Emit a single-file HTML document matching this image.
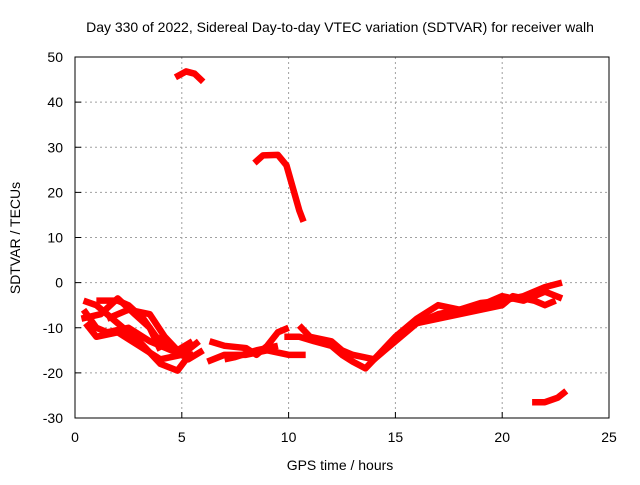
<!DOCTYPE html>
<html><head><meta charset="utf-8"><style>
body{margin:0;background:#fff;}
svg{font-family:"Liberation Sans",sans-serif;}
</style></head><body>
<svg id="chart" width="640" height="480" viewBox="0 0 640 480" xmlns="http://www.w3.org/2000/svg">
<text x="340" y="32" font-size="14" text-anchor="middle">Day 330 of 2022, Sidereal Day-to-day VTEC variation (SDTVAR) for receiver walh</text>
<text x="340" y="470" font-size="14" text-anchor="middle">GPS time / hours</text>
<text x="0" y="0" font-size="14" text-anchor="middle" transform="translate(20,238) rotate(-90)">SDTVAR / TECUs</text>
<g id="grid"></g><g id="series"></g>
<rect x="75" y="57" width="534" height="361" fill="none" stroke="#000" stroke-width="1"/>
</svg>
<script>
const xTicks=[0,5,10,15,20,25];
const yTicks=[-30,-20,-10,0,10,20,30,40,50];
const seriesTop=[[4.7,45.5],[5.2,46.8],[5.6,46.3],[6.0,44.5]];
const seriesB=[[8.4,26.5],[8.8,28.2],[9.5,28.3],[9.9,26],[10.2,21],[10.5,16],[10.7,13.5]];
const seriesC=[[21.4,-26.5],[22,-26.5],[22.6,-25.5],[23,-24]];
const seriesD1=[[0.4,-4],[1,-5],[2,-9],[3,-13],[4,-18],[4.8,-19.5],[5.2,-17]];
const seriesD2=[[0.4,-6],[1,-10],[1.5,-11],[2.5,-10],[3.5,-13],[4.5,-15],[5.5,-16]];
const seriesD3=[[0.5,-9],[1,-12],[2,-11],[3,-14],[4,-17],[5,-16],[5.8,-13]];
const seriesD4=[[1,-4],[2,-4],[2.5,-5],[3.2,-8],[3.8,-12],[4.5,-14],[5.3,-17],[6,-15]];
const seriesD5=[[1.5,-8],[2.5,-6],[3.5,-7],[4.2,-12],[4.8,-15],[5.5,-13]];
const seriesD6=[[0.3,-8],[1.2,-7],[2,-3.5],[2.8,-7],[3.5,-10],[4,-15]];
const seriesM1=[[6.2,-17.5],[7,-16],[8,-16],[9,-15],[10,-16],[10.8,-16]];
const seriesM2=[[6.3,-13],[7,-14],[8,-14.5],[8.5,-16],[9,-14],[9.5,-11],[10,-10]];
const seriesM3=[[7,-17],[7.5,-16.5],[8.5,-15],[9.5,-14]];
const seriesL1=[[9.8,-12],[10.5,-12],[11.2,-13],[12,-14],[12.5,-16],[13,-17.5],[13.6,-19],[14,-17],[14.5,-15],[15,-13],[16,-9],[17,-7],[18,-6],[19,-4.5],[20,-4],[21,-3],[22,-1],[22.8,0]];
const seriesL2=[[10.5,-9.5],[11,-12],[12,-13],[12.5,-15],[13,-16],[14,-17],[15,-12],[16,-8],[17,-5],[18,-6],[19,-5],[20,-3],[21,-4],[22,-2],[22.8,-3.5]];
const seriesL3=[[16,-9],[17,-8],[18,-7],[19,-6],[20,-5],[20.5,-3],[21.5,-4],[22,-5],[22.5,-4]];
const allSeries=[seriesTop,seriesB,seriesC,seriesD1,seriesD2,seriesD3,seriesD4,seriesD5,seriesD6,seriesM1,seriesM2,seriesM3,seriesL1,seriesL2,seriesL3];
const X0=75,X1=609,Y0=418,Y1=57;
function sx(v){return X0+(v-0)/(25-0)*(X1-X0);}
function sy(v){return Y0-(v+30)/(80)*(Y0-Y1);}
const NS="http://www.w3.org/2000/svg";
const grid=document.getElementById('grid');
xTicks.forEach(t=>{
 const x=sx(t);
 if(t>0&&t<25){const l=document.createElementNS(NS,'line');
 
 
 l.setAttribute('x1',x);l.setAttribute('x2',x);l.setAttribute('y1',Y1);l.setAttribute('y2',Y0);
 l.setAttribute('stroke','#a0a0a0');l.setAttribute('stroke-dasharray','2,3');grid.appendChild(l);}
 const tk=document.createElementNS(NS,'line');
 
 
 tk.setAttribute('x1',x);tk.setAttribute('x2',x);tk.setAttribute('y1',Y0);tk.setAttribute('y2',Y0-6);tk.setAttribute('stroke','#000');grid.appendChild(tk);
 const tx=document.createElementNS(NS,'text');
 
 
 tx.setAttribute('x',x);tx.setAttribute('y',Y0+24);tx.setAttribute('font-size','14');tx.setAttribute('text-anchor','middle');tx.textContent=t;grid.appendChild(tx);
});
yTicks.forEach(t=>{
 const y=sy(t);
 if(t>-30&&t<50){const l=document.createElementNS(NS,'line');
 
 
 l.setAttribute('x1',X0);l.setAttribute('x2',X1);l.setAttribute('y1',y);l.setAttribute('y2',y);
 l.setAttribute('stroke','#a0a0a0');l.setAttribute('stroke-dasharray','2,3');grid.appendChild(l);}
 const tk=document.createElementNS(NS,'line');
 
 
 tk.setAttribute('x1',X0);tk.setAttribute('x2',X0+6);tk.setAttribute('y1',y);tk.setAttribute('y2',y);tk.setAttribute('stroke','#000');grid.appendChild(tk);
 const tx=document.createElementNS(NS,'text');
 
 
 tx.setAttribute('x',X0-12);tx.setAttribute('y',y+5);tx.setAttribute('font-size','14');tx.setAttribute('text-anchor','end');tx.textContent=t;grid.appendChild(tx);
});
const sg=document.getElementById('series');
allSeries.forEach(s=>{
 const p=document.createElementNS(NS,'polyline');
 
 
 p.setAttribute('points',s.map(d=>sx(d[0])+','+sy(d[1])).join(' '));
 p.setAttribute('fill','none');p.setAttribute('stroke','#ff0000');p.setAttribute('stroke-width','6.5');
 p.setAttribute('stroke-linejoin','round');
 sg.appendChild(p);
});
</script>
</body></html>
